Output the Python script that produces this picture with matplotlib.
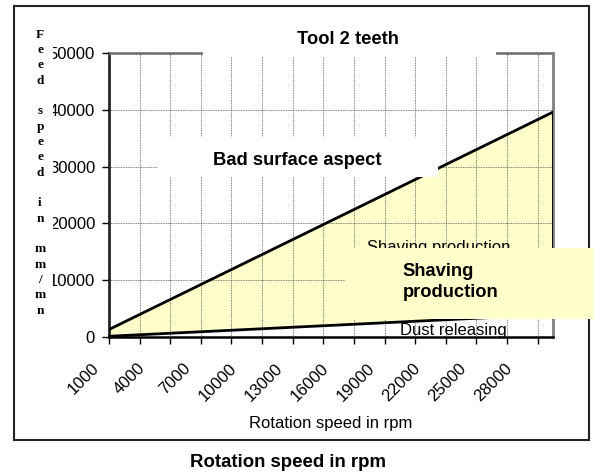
import matplotlib
matplotlib.use("Agg")
import matplotlib.pyplot as plt
from matplotlib.patches import Rectangle
from matplotlib.transforms import ScaledTranslation

plt.rcParams['font.family'] = ['Liberation Sans', 'DejaVu Sans']

# data
rpm = [1000, 2000, 3000, 4000, 5000, 6000, 7000, 8000, 9000, 10000,
       11000, 12000, 13000, 14000, 15000, 16000, 17000, 18000, 19000, 20000,
       21000, 22000, 23000, 24000, 25000, 26000, 27000, 28000, 29000, 30000]
feed_max = [1320, 2640, 3960, 5280, 6600, 7920, 9240, 10560, 11880, 13200,
            14520, 15840, 17160, 18480, 19800, 21120, 22440, 23760, 25080, 26400,
            27720, 29040, 30360, 31680, 33000, 34320, 35640, 36960, 38280, 39600]
feed_min = [132, 264, 396, 528, 660, 792, 924, 1056, 1188, 1320,
            1452, 1584, 1716, 1848, 1980, 2112, 2244, 2376, 2508, 2640,
            2772, 2904, 3036, 3168, 3300, 3432, 3564, 3696, 3828, 3960]
tick_rpm = [1000, 3000, 5000, 7000, 9000, 11000, 13000, 15000, 17000, 19000,
            21000, 23000, 25000, 27000, 29000]
label_rpm = [1000, 4000, 7000, 10000, 13000, 16000, 19000, 22000, 25000, 28000]
y_ticks = [0, 10000, 20000, 30000, 40000, 50000]
ylabel_chars = list("Feed") + [""] + list("speed") + [""] + list("in") + [""] + list("mm/mn")

W, H = 597, 472


def fx(px):
    return px / W


def fy(py):
    return 1 - py / H


fig = plt.figure(figsize=(W / 100, H / 100), dpi=100)
ax = fig.add_axes([fx(109), fy(337), fx(553) - fx(109), fy(53) - fy(337)])

ax.fill_between(rpm, feed_min, feed_max, color='#FFFFCC', lw=0, zorder=1)
ax.plot(rpm, feed_max, color='black', lw=2, zorder=3)
ax.plot(rpm, feed_min, color='black', lw=2, zorder=3)
ax.plot([rpm[-1], rpm[-1]], [feed_min[-1], feed_max[-1]], color='black', lw=2, zorder=3)

ax.set_xlim(rpm[0], rpm[-1])
ax.set_ylim(y_ticks[0], y_ticks[-1])
ax.set_xticks(tick_rpm)
ax.set_xticklabels([])
ax.set_yticks(y_ticks)
ax.set_yticklabels([str(v) for v in y_ticks], fontsize=12)
ax.tick_params(axis='both', direction='out', length=5, width=1, pad=5)
ax.set_axisbelow(False)
ax.grid(True, color='#555555', lw=0.6, linestyle=(0, (1, 1)))

for side in ['left', 'bottom']:
    ax.spines[side].set_color('black')
    ax.spines[side].set_linewidth(1.8)
for side in ['top', 'right']:
    ax.spines[side].set_color('#808080')
    ax.spines[side].set_linewidth(2)

off = ScaledTranslation(-12.5 / 100, -29 / 100, fig.dpi_scale_trans)
for r in label_rpm:
    ax.text(r, 0, str(r), transform=ax.get_xaxis_transform() + off,
            rotation=45, rotation_mode='anchor', ha='right', va='center', fontsize=12)

# outer frame
fig.add_artist(Rectangle((fx(14), fy(440)), fx(589) - fx(14), fy(6) - fy(440),
                         transform=fig.transFigure, fill=False, ec='#222222', lw=1.5, zorder=1))

# white text boxes
fig.add_artist(Rectangle((fx(203), fy(57)), fx(496) - fx(203), fy(10) - fy(57),
                         transform=fig.transFigure, fc='white', ec='none', zorder=2))
fig.add_artist(Rectangle((fx(157), fy(177)), fx(438) - fx(157), fy(137) - fy(177),
                         transform=fig.transFigure, fc='white', ec='none', zorder=2))
fig.add_artist(Rectangle((fx(15.5), fy(325)), fx(53) - fx(15.5), fy(20) - fy(325),
                         transform=fig.transFigure, fc='white', ec='none', zorder=2))

fig.text(fx(348), fy(44), "Tool 2 teeth", ha='center', va='baseline',
         fontsize=13.2, fontweight='bold', zorder=3)
fig.text(fx(297.5), fy(165), "Bad surface aspect", ha='center', va='baseline',
         fontsize=13.2, fontweight='bold', zorder=3)
fig.text(fx(366.7), fy(252), "Shaving production", ha='left', va='baseline',
         fontsize=12, zorder=3)
fig.text(fx(400), fy(335), "Dust releasing", ha='left', va='baseline',
         fontsize=12, zorder=3)
fig.text(fx(331), fy(428), "Rotation speed in rpm", ha='center', va='baseline',
         fontsize=12, zorder=3)
fig.text(fx(288), fy(467), "Rotation speed in rpm", ha='center', va='baseline',
         fontsize=13.4, fontweight='bold', zorder=3)

for i, ch in enumerate(ylabel_chars):
    if ch:
        fig.text(fx(40), fy(37.5 + i * 15.35), ch, ha='center', va='baseline',
                 fontsize=9.5, fontweight='bold', family='Liberation Serif', zorder=3)

# yellow callout box
fig.add_artist(Rectangle((fx(345), fy(319)), fx(594) - fx(345), fy(248) - fy(319),
                         transform=fig.transFigure, fc='#FFFFCC', ec='none', zorder=4))
fig.text(fx(402.7), fy(276), "Shaving", ha='left', va='baseline',
         fontsize=13.2, fontweight='bold', zorder=5)
fig.text(fx(402.7), fy(297), "production", ha='left', va='baseline',
         fontsize=13.2, fontweight='bold', zorder=5)

fig.savefig("out.png", dpi=100)
